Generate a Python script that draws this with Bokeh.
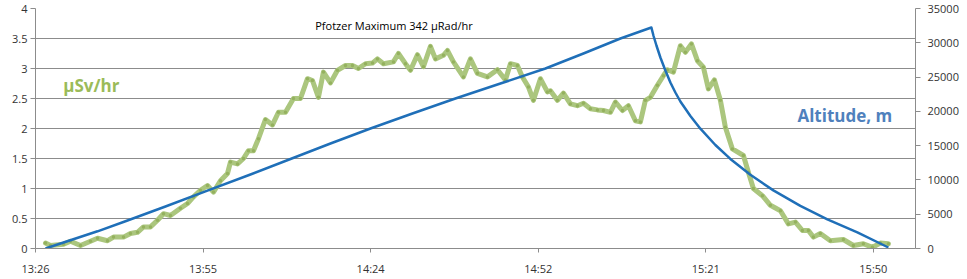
from bokeh.plotting import figure
from bokeh.models import (LinearAxis, Range1d, FixedTicker, NumeralTickFormatter,
                          Label, ColumnDataSource, Grid)
from bokeh.embed import file_html
from bokeh.resources import INLINE

# ---------------- data ----------------
# time in minutes after 13:26
dose_t = [1.72, 2.58, 4.82, 6.02, 7.74, 9.46, 10.67, 12.39, 13.42, 15.14, 16.34, 17.55,
          18.58, 19.78, 20.99, 22.02, 23.22, 24.94, 26.15, 27.18, 28.38, 29.59, 30.62,
          31.82, 33.03, 33.54, 34.75, 35.78, 36.64, 37.50, 38.36, 39.56, 40.77, 41.80,
          43.01, 44.38, 45.59, 46.79, 47.65, 48.68, 49.54, 50.75, 51.95, 53.33, 54.53,
          55.56, 56.77, 57.97, 58.83, 59.86, 61.58, 62.44, 63.65, 64.51, 65.71, 66.74,
          67.95, 68.81, 70.18, 70.87, 71.90, 73.62, 74.83, 76.03, 77.75, 79.47, 80.85,
          81.71, 82.91, 83.77, 84.81, 85.67, 86.87, 88.07, 88.59, 89.79, 90.83, 92.03,
          93.23, 94.27, 95.47, 96.68, 97.71, 98.91, 99.77, 100.98, 102.01, 103.21,
          104.07, 104.93, 105.79, 107.00, 108.03, 108.72, 109.75, 110.95, 111.81,
          112.85, 113.88, 114.91, 115.77, 116.80, 117.83, 118.69, 119.90, 121.79,
          122.65, 123.51, 125.06, 126.44, 128.16, 129.53, 130.74, 131.94, 132.97,
          133.83, 135.03, 136.75, 138.99, 140.71, 142.43, 143.98, 145.36, 146.74]
dose_usv = [0.09, 0.05, 0.07, 0.12, 0.05, 0.12, 0.17, 0.13, 0.19, 0.19, 0.25, 0.27,
            0.36, 0.36, 0.47, 0.58, 0.55, 0.67, 0.75, 0.86, 0.97, 1.05, 0.94,
            1.13, 1.25, 1.44, 1.41, 1.50, 1.63, 1.63, 1.83, 2.15, 2.06, 2.27,
            2.27, 2.50, 2.50, 2.83, 2.80, 2.52, 2.94, 2.76, 2.97, 3.05, 3.05,
            3.00, 3.08, 3.09, 3.16, 3.08, 3.11, 3.25, 3.08, 2.97, 3.23, 3.03,
            3.37, 3.16, 3.22, 3.30, 3.11, 2.86, 3.16, 2.92, 2.86, 2.98, 2.81,
            3.08, 3.05, 2.86, 2.69, 2.47, 2.83, 2.61, 2.63, 2.47, 2.59, 2.41,
            2.38, 2.42, 2.33, 2.31, 2.30, 2.27, 2.44, 2.30, 2.38, 2.13,
            2.11, 2.47, 2.52, 2.72, 2.88, 2.98, 2.94, 3.38, 3.27,
            3.41, 3.13, 3.02, 2.66, 2.81, 2.47, 2.02, 1.66, 1.55,
            1.27, 1.00, 0.88, 0.72, 0.63, 0.41, 0.44, 0.30, 0.30,
            0.19, 0.25, 0.13, 0.15, 0.05, 0.08, 0.02, 0.09, 0.08]

alt_t = [1.72, 4.82, 10.67, 15.48, 22.36, 29.24, 36.98, 43.87, 50.75, 57.63, 64.85,
         72.24, 79.99, 87.73, 94.27, 100.63, 105.96,
         106.31, 106.83, 107.51, 108.37, 109.23, 110.09, 110.95, 112.67, 114.39,
         116.97, 119.55, 122.99, 126.95, 131.59, 136.24, 141.40, 146.74]
alt_m = [0, 875, 2508, 3981, 6125, 8342, 10792, 13052, 15313, 17500, 19688,
         21875, 24063, 26250, 28438, 30625, 32229,
         31063, 29604, 27854, 25958, 24208, 22750, 21437, 19323, 17471,
         15094, 13067, 10748, 8473, 6213, 4258, 2362, 146]

tick_labels = ["13:26", "13:55", "14:24", "14:52", "15:21", "15:50"]
tick_step_min = 28.83
left_ticks = [0, 0.5, 1, 1.5, 2, 2.5, 3, 3.5, 4]
right_ticks = [0, 5000, 10000, 15000, 20000, 25000, 30000, 35000]

title_text = "Pfotzer Maximum 342 \u00b5Rad/hr"
left_label = "\u00b5Sv/hr"
right_label = "Altitude, m"
x_label = "Time"

# ---------------- figure ----------------
FONT = "Open Sans"
GRID = "#8c8c8c"
TXT = "#333333"

p = figure(frame_width=880, frame_height=240, output_backend="svg",
           toolbar_location=None, x_range=Range1d(0, 151.4), y_range=Range1d(0, 4),
           min_border_left=35, min_border_right=52, min_border_top=8,
           min_border_bottom=31, x_axis_location=None, y_axis_location=None)
p.outline_line_color = None
p.background_fill_color = "white"
p.border_fill_color = "white"

p.extra_y_ranges = {"alt": Range1d(0, 35000)}

x_ticks = [i * tick_step_min for i in range(len(tick_labels))]

xaxis = LinearAxis(ticker=FixedTicker(ticks=x_ticks),
                   major_label_overrides={t: l for t, l in zip(x_ticks, tick_labels)})
yaxis = LinearAxis(ticker=FixedTicker(ticks=left_ticks),
                   formatter=NumeralTickFormatter(format="0.[0]"))
raxis = LinearAxis(y_range_name="alt", ticker=FixedTicker(ticks=right_ticks),
                   formatter=NumeralTickFormatter(format="0"))
p.add_layout(xaxis, "below")
p.add_layout(yaxis, "left")
p.add_layout(raxis, "right")

for ax in (xaxis, yaxis, raxis):
    ax.axis_line_color = GRID
    ax.major_tick_line_color = GRID
    ax.minor_tick_line_color = None
    ax.major_tick_in = 0
    ax.major_tick_out = 5
    ax.major_label_text_font = FONT
    ax.major_label_text_font_size = "11px"
    ax.major_label_text_color = TXT
xaxis.major_tick_out = 4
xaxis.major_label_standoff = 8
yaxis.major_label_standoff = 3
raxis.major_label_standoff = 7

p.xgrid.visible = False
p.ygrid.visible = False
p.add_layout(Grid(dimension=1, ticker=FixedTicker(ticks=left_ticks),
                  grid_line_color=GRID, grid_line_width=1))

# dose-rate line (thick green with dot markers)
src_d = ColumnDataSource(dict(t=dose_t, v=dose_usv))
p.line("t", "v", source=src_d, line_color="#abc67e", line_width=5, line_join="round",
       line_cap="round")
p.scatter("t", "v", source=src_d, size=3.5, fill_color="#94b15e", line_color=None)

# altitude line
src_a = ColumnDataSource(dict(t=alt_t, a=alt_m))
p.line("t", "a", source=src_a, y_range_name="alt", line_color="#1f6fb8", line_width=2.5,
       line_join="round")

# texts
p.add_layout(Label(x=61.67, y=3.725, text=title_text, text_font=FONT,
                   text_font_size="11px", text_color="black", text_align="center",
                   text_baseline="middle"))
p.add_layout(Label(x=9.6, y=2.72, text=left_label, text_font=FONT,
                   text_font_size="17px", text_font_style="bold", text_color="#9bbb59",
                   text_align="center", text_baseline="middle"))
p.add_layout(Label(x=147.4, y=2.21, text=right_label, text_font=FONT,
                   text_font_size="17px", text_font_style="bold", text_color="#4f81bd",
                   text_align="right", text_baseline="middle"))
p.add_layout(Label(x=76.6, y=-0.267, text=x_label, text_font=FONT,
                   text_font_size="12px", text_font_style="bold", text_color="black",
                   text_align="center", text_baseline="middle"))

open("out.html", "w").write(file_html(p, INLINE))
